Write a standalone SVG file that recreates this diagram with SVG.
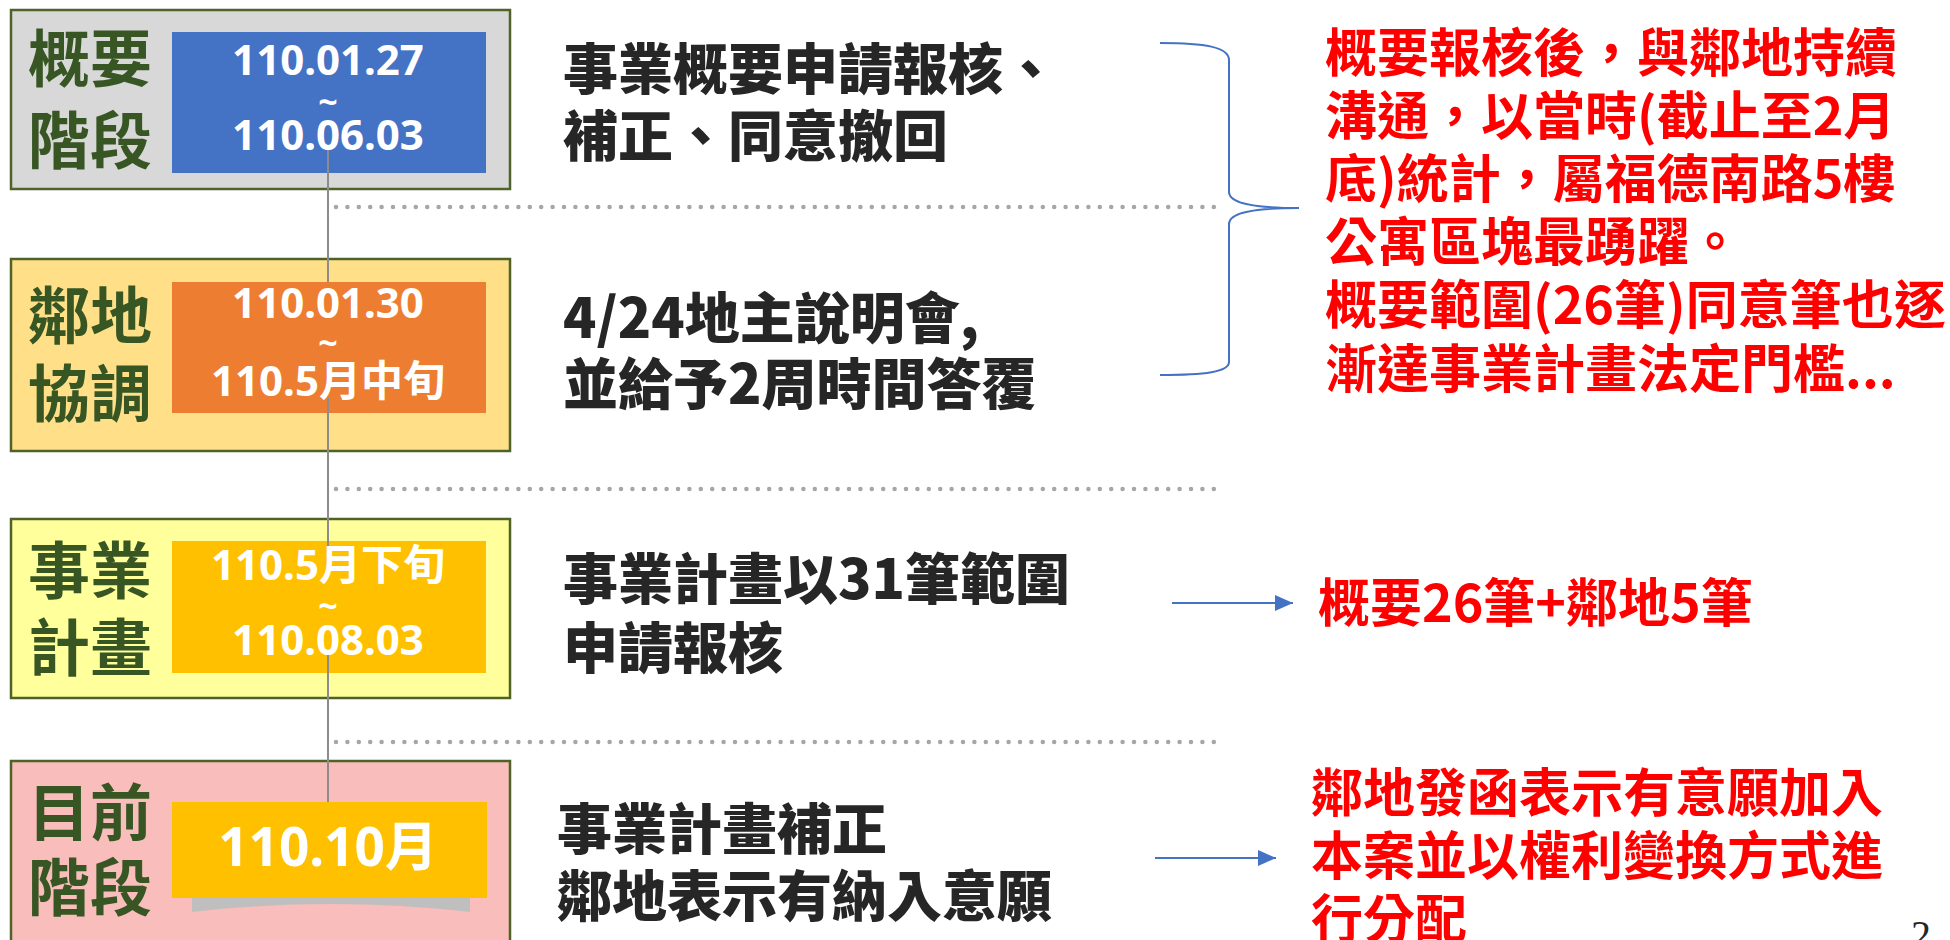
<svg xmlns="http://www.w3.org/2000/svg" width="1950" height="940" viewBox="0 0 1950 940">
<style>
.stage{stroke:#4f6228;stroke-width:2.5}
.lbl{font-family:"Noto Sans CJK TC","Noto Sans CJK SC",sans-serif;font-weight:700;font-size:62px;fill:#375623}
.date{font-family:"Noto Sans","Open Sans","Noto Sans CJK TC",sans-serif;font-weight:700;font-size:42px;fill:#ffffff;text-anchor:middle}
.tilde{font-size:34px}
.desc{font-family:"Noto Sans CJK TC","Noto Sans CJK SC",sans-serif;font-weight:900;font-size:55px;fill:#262626}
.note{font-family:"Noto Sans CJK TC","Noto Sans CJK SC",sans-serif;font-weight:700;font-size:52px;fill:#ff0000}
.dots{stroke:#a6a6a6;stroke-width:4.5;stroke-linecap:round;stroke-dasharray:0 11.4;fill:none}
.tl{stroke:#8c8c8c;stroke-width:2;fill:none}
.blue{stroke:#4472c4;stroke-width:2;fill:none}
</style>
<defs>
<marker id="arr" markerUnits="userSpaceOnUse" markerWidth="18" markerHeight="16" refX="18" refY="8" orient="auto">
<path d="M0,0 L18,8 L0,16 Z" fill="#4472c4"/>
</marker>
</defs>
<rect x="0" y="0" width="1950" height="940" fill="#ffffff"/>

<g id="separators">
<line class="dots" x1="336" y1="207" x2="1222" y2="207"/>
<line class="dots" x1="336" y1="489" x2="1222" y2="489"/>
<line class="dots" x1="336" y1="742" x2="1222" y2="742"/>
</g>

<g id="stage-1">
<rect class="stage" x="11" y="10" width="499" height="179" fill="#d9d8d8"/>
<text class="lbl" x="28" y="82">概要</text>
<text class="lbl" x="28" y="164">階段</text>
<rect x="172" y="32" width="314" height="141" fill="#4472c4"/>
</g>

<g id="stage-2">
<rect class="stage" x="11" y="259" width="499" height="192" fill="#ffe089"/>
<text class="lbl" x="28" y="339">鄰地</text>
<text class="lbl" x="28" y="417">協調</text>
<rect x="172" y="282" width="314" height="131" fill="#ed7d31"/>
</g>

<g id="stage-3">
<rect class="stage" x="11" y="519" width="499" height="179" fill="#ffff9b"/>
<text class="lbl" x="28" y="594">事業</text>
<text class="lbl" x="28" y="671">計畫</text>
<rect x="172" y="541" width="314" height="132" fill="#ffc000"/>
</g>

<g id="stage-4">
<rect class="stage" x="11" y="761" width="499" height="182" fill="#f9bdbb"/>
<text class="lbl" x="28" y="836">目前</text>
<text class="lbl" x="28" y="911">階段</text>
<path d="M192,897 L470,897 L470,912 Q331,896 192,912 Z" fill="#bfbfbf"/>
<rect x="172" y="802" width="315" height="96" fill="#ffc000"/>
</g>

<g id="connectors">
<line class="tl" x1="328" y1="147" x2="328" y2="282"/>
<line class="tl" x1="328" y1="398" x2="328" y2="553"/>
<line class="tl" x1="328" y1="650" x2="328" y2="802"/>
<path class="blue" d="M1160,43 C1205,43 1229,47 1229,60 L1229,192 C1229,203 1252,208 1299,208 C1252,208 1229,213 1229,224 L1229,362 C1229,372 1205,375 1160,375"/>
<line class="blue" x1="1172" y1="603" x2="1293" y2="603" marker-end="url(#arr)"/>
<line class="blue" x1="1155" y1="858" x2="1276" y2="858" marker-end="url(#arr)"/>
</g>

<g id="dates">
<text class="date"><tspan x="328" y="75">110.01.27</tspan><tspan class="tilde" x="328" y="114">~</tspan><tspan x="328" y="150">110.06.03</tspan></text>
<text class="date"><tspan x="328" y="318">110.01.30</tspan><tspan class="tilde" x="328" y="355">~</tspan><tspan x="328" y="396">110.5月中旬</tspan></text>
<text class="date"><tspan x="328" y="580">110.5月下旬</tspan><tspan class="tilde" x="328" y="618">~</tspan><tspan x="328" y="655">110.08.03</tspan></text>
<text class="date" x="328" y="866" style="font-size:53px">110.10月</text>
</g>

<g id="desc-1">
<text class="desc" x="563" y="89">事業概要申請報核、</text>
<text class="desc" x="563" y="156">補正、同意撤回</text>
</g>
<g id="desc-2">
<text class="desc" x="563" y="338">4/24地主說明會,</text>
<text class="desc" x="563" y="404">並給予2周時間答覆</text>
</g>
<g id="desc-3">
<text class="desc" x="563" y="599">事業計畫以31筆範圍</text>
<text class="desc" x="563" y="668">申請報核</text>
</g>
<g id="desc-4">
<text class="desc" x="557" y="849">事業計畫補正</text>
<text class="desc" x="557" y="916">鄰地表示有納入意願</text>
</g>

<g id="note-1">
<text class="note" x="1325" y="72">概要報核後，與鄰地持續</text>
<text class="note" x="1325" y="135">溝通，以當時(截止至2月</text>
<text class="note" x="1325" y="198">底)統計，屬福德南路5樓</text>
<text class="note" x="1325" y="261">公寓區塊最踴躍。</text>
<text class="note" x="1325" y="324">概要範圍(26筆)同意筆也逐</text>
<text class="note" x="1325" y="388">漸達事業計畫法定門檻...</text>
</g>
<g id="note-2">
<text class="note" x="1318" y="622">概要26筆+鄰地5筆</text>
</g>
<g id="note-3">
<text class="note" x="1311" y="812">鄰地發函表示有意願加入</text>
<text class="note" x="1311" y="875">本案並以權利變換方式進</text>
<text class="note" x="1311" y="938">行分配</text>
</g>
<text x="1911" y="948" style="font-family:'Liberation Serif',serif;font-size:40px;fill:#262626">2</text>
</svg>
